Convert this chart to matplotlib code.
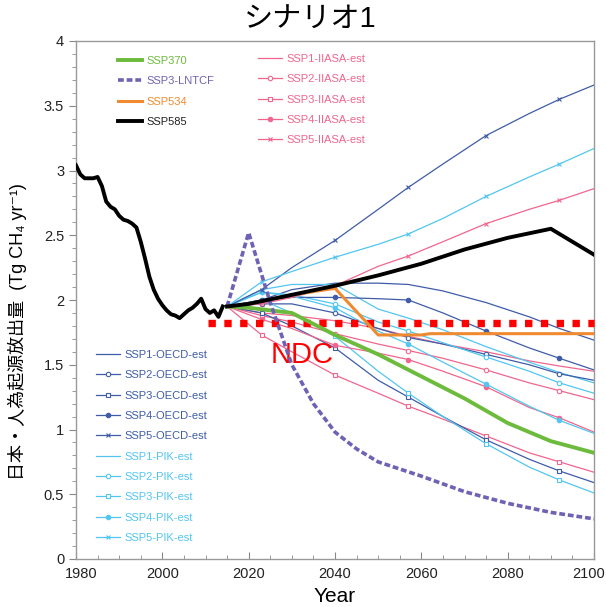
import numpy as np
import matplotlib.pyplot as plt
from matplotlib.transforms import ScaledTranslation

plt.rcParams['font.family'] = ['Liberation Sans', 'Noto Sans CJK JP', 'DejaVu Sans']

# historical emissions (black line)
hist_years = np.arange(1980, 2015)
hist_vals = [3.04, 2.97, 2.94, 2.94, 2.94, 2.95, 2.88, 2.76, 2.72, 2.70,
             2.65, 2.62, 2.61, 2.59, 2.56, 2.45, 2.32, 2.18, 2.08, 2.01,
             1.96, 1.92, 1.89, 1.88, 1.86, 1.89, 1.92, 1.94, 1.97, 2.01,
             1.93, 1.90, 1.92, 1.87, 1.95]

# main scenarios
ssp585_years = [2015, 2020, 2030, 2040, 2050, 2060, 2070, 2080, 2090, 2100]
ssp585 = [1.95, 1.97, 2.04, 2.11, 2.19, 2.28, 2.39, 2.48, 2.55, 2.35]

ssp370_years = [2015, 2020, 2030, 2040, 2050, 2060, 2070, 2080, 2090, 2100]
ssp370 = [1.95, 1.94, 1.90, 1.73, 1.58, 1.41, 1.24, 1.05, 0.91, 0.82]

lntcf_years = [2015, 2020, 2025, 2030, 2035, 2040, 2045, 2050, 2060, 2070, 2080, 2090, 2100]
lntcf = [1.95, 2.52, 1.98, 1.50, 1.20, 0.98, 0.85, 0.75, 0.64, 0.52, 0.43, 0.36, 0.31]

ssp534_years = [2015, 2020, 2030, 2040, 2050, 2060, 2062, 2100]
ssp534 = [1.95, 1.97, 2.04, 2.09, 1.73, 1.73, 1.74, 1.74]

ndc_years = [2010.5, 2100]
ndc = [1.82, 1.82]

# downscaled estimates
est_years = [2015, 2023, 2030, 2040, 2050, 2057, 2065, 2075, 2085, 2092, 2100]

oecd = {
    'SSP1': [1.95, 2.00, 2.08, 2.13, 2.13, 2.12, 2.07, 1.98, 1.87, 1.78, 1.69],
    'SSP2': [1.95, 1.97, 1.97, 1.90, 1.78, 1.71, 1.66, 1.58, 1.50, 1.43, 1.38],
    'SSP3': [1.95, 1.90, 1.80, 1.63, 1.38, 1.25, 1.10, 0.92, 0.77, 0.68, 0.59],
    'SSP4': [1.95, 2.00, 2.02, 2.02, 2.01, 2.00, 1.90, 1.76, 1.63, 1.55, 1.46],
    'SSP5': [1.95, 2.08, 2.25, 2.46, 2.70, 2.87, 3.05, 3.27, 3.44, 3.55, 3.66],
}
pik = {
    'SSP1': [1.95, 2.08, 2.12, 2.12, 1.93, 1.86, 1.77, 1.64, 1.52, 1.44, 1.36],
    'SSP2': [1.95, 2.06, 2.04, 1.97, 1.83, 1.76, 1.67, 1.56, 1.45, 1.36, 1.28],
    'SSP3': [1.95, 2.00, 1.90, 1.72, 1.45, 1.28, 1.10, 0.89, 0.71, 0.61, 0.51],
    'SSP4': [1.95, 2.06, 2.03, 1.94, 1.76, 1.66, 1.52, 1.35, 1.18, 1.07, 0.97],
    'SSP5': [1.95, 2.14, 2.22, 2.33, 2.43, 2.51, 2.63, 2.80, 2.95, 3.05, 3.17],
}
iiasa = {
    'SSP1': [1.95, 1.90, 1.88, 1.84, 1.78, 1.72, 1.66, 1.60, 1.53, 1.49, 1.45],
    'SSP2': [1.95, 1.88, 1.83, 1.74, 1.66, 1.61, 1.55, 1.46, 1.36, 1.30, 1.23],
    'SSP3': [1.95, 1.73, 1.60, 1.42, 1.28, 1.18, 1.08, 0.95, 0.82, 0.75, 0.67],
    'SSP4': [1.95, 1.85, 1.78, 1.65, 1.59, 1.54, 1.45, 1.33, 1.17, 1.09, 0.98],
    'SSP5': [1.95, 1.97, 2.02, 2.11, 2.26, 2.34, 2.45, 2.59, 2.70, 2.77, 2.86],
}

c_oecd = '#3f5ca8'
c_pik = '#52c6f0'
c_iiasa = '#f0668e'
c_green = '#6cbb3c'
c_purple = '#6f62b5'
c_orange = '#f08a30'

markers = {'SSP1': ('None', True), 'SSP2': ('o', False), 'SSP3': ('s', False),
           'SSP4': ('o', True), 'SSP5': ('x', True)}
mark_idx = [1, 3, 5, 7, 9]

fig = plt.figure(figsize=(6.06, 6.07), dpi=100)
ax = fig.add_axes([76 / 606, 48 / 607, 518 / 606, 518 / 607])


def est_line(vals, color, ssp):
    m, filled = markers[ssp]
    fc = color if filled else 'white'
    return ax.plot(est_years, vals, color=color, lw=0.9, marker=m, markersize=3.2,
                   markevery=mark_idx, markerfacecolor=fc, markeredgecolor=color,
                   markeredgewidth=0.8)[0]


h_oecd, h_pik, h_iiasa = [], [], []
for ssp in ['SSP1', 'SSP2', 'SSP3', 'SSP4', 'SSP5']:
    h_iiasa.append(est_line(iiasa[ssp], c_iiasa, ssp))
    h_oecd.append(est_line(oecd[ssp], c_oecd, ssp))
    h_pik.append(est_line(pik[ssp], c_pik, ssp))

ax.plot(ndc_years, ndc, color='#ff0000', lw=5.3, linestyle=(0, (1, 1.15)),
        dash_capstyle='butt', clip_on=False, zorder=3)
ax.text(2032.3, 1.575, 'NDC', color='#ff0000', fontsize=21, ha='center', va='center')

h534, = ax.plot(ssp534_years, ssp534, color=c_orange, lw=2.2, zorder=4)
h370, = ax.plot(ssp370_years, ssp370, color=c_green, lw=2.8, zorder=4)
hln, = ax.plot(lntcf_years, lntcf, color=c_purple, lw=2.6, linestyle=(0, (1.6, 0.8)), zorder=4)
ax.plot(hist_years, hist_vals, color='black', lw=2.8, zorder=5)
h585, = ax.plot(ssp585_years, ssp585, color='black', lw=2.8, zorder=5)

ax.set_xlim(1980, 2100)
ax.set_ylim(0, 4)
ax.set_xticks(np.arange(1980, 2101, 20))
ax.set_xticks(np.arange(1980, 2101, 5), minor=True)
ax.set_yticks(np.arange(0, 4.01, 0.5))
ax.set_yticklabels(['0', '0.5', '1', '1.5', '2', '2.5', '3', '3.5', '4'])
ax.set_yticks(np.arange(0, 4.01, 0.1), minor=True)
ax.tick_params(axis='x', which='both', direction='in', labelsize=10.5, colors='#888888',
               labelcolor='#222222', pad=6)
ax.tick_params(axis='x', which='major', length=5)
ax.tick_params(axis='x', which='minor', length=3)
ax.tick_params(axis='y', which='both', direction='out', labelsize=10.5, colors='#888888',
               labelcolor='#222222')
ax.tick_params(axis='y', which='major', length=5)
ax.tick_params(axis='y', which='minor', length=3)
for s in ax.spines.values():
    s.set_color('#999999')
    s.set_linewidth(1.0)

# keep the end labels inside the figure
xlabels = ax.get_xticklabels()
xlabels[0].set_transform(xlabels[0].get_transform() + ScaledTranslation(5 / 100, 0, fig.dpi_scale_trans))
xlabels[-1].set_transform(xlabels[-1].get_transform() + ScaledTranslation(-5 / 100, 0, fig.dpi_scale_trans))

ax.set_xlabel('Year', fontsize=15)
ax.set_ylabel('日本・人為起源放出量  (Tg CH₄ yr⁻¹)', fontsize=13)
ax.yaxis.set_label_coords(-0.095, 0.44)
fig.text(310 / 606, 1 - 20 / 607, 'シナリオ1', fontsize=21, ha='center', va='center')

leg_kw = dict(frameon=False, fontsize=8, handlelength=2.2, handletextpad=0.4,
              labelspacing=0.93, borderpad=0, borderaxespad=0, loc='upper left',
              bbox_transform=fig.transFigure)

leg1 = ax.legend([h370, hln, h534, h585], ['SSP370', 'SSP3-LNTCF', 'SSP534', 'SSP585'],
                 bbox_to_anchor=(118 / 606, 1 - 56 / 607),
                 labelcolor=[c_green, c_purple, c_orange, '#222222'], **leg_kw)
ax.add_artist(leg1)
leg2 = ax.legend(h_iiasa, [f'SSP{i}-IIASA-est' for i in range(1, 6)],
                 bbox_to_anchor=(258 / 606, 1 - 54 / 607), labelcolor=c_iiasa, **leg_kw)
ax.add_artist(leg2)
ax.legend(h_oecd + h_pik,
          [f'SSP{i}-OECD-est' for i in range(1, 6)] + [f'SSP{i}-PIK-est' for i in range(1, 6)],
          bbox_to_anchor=(96 / 606, 1 - 350 / 607),
          labelcolor=[c_oecd] * 5 + [c_pik] * 5, **leg_kw)

fig.savefig('out.png', dpi=100)
